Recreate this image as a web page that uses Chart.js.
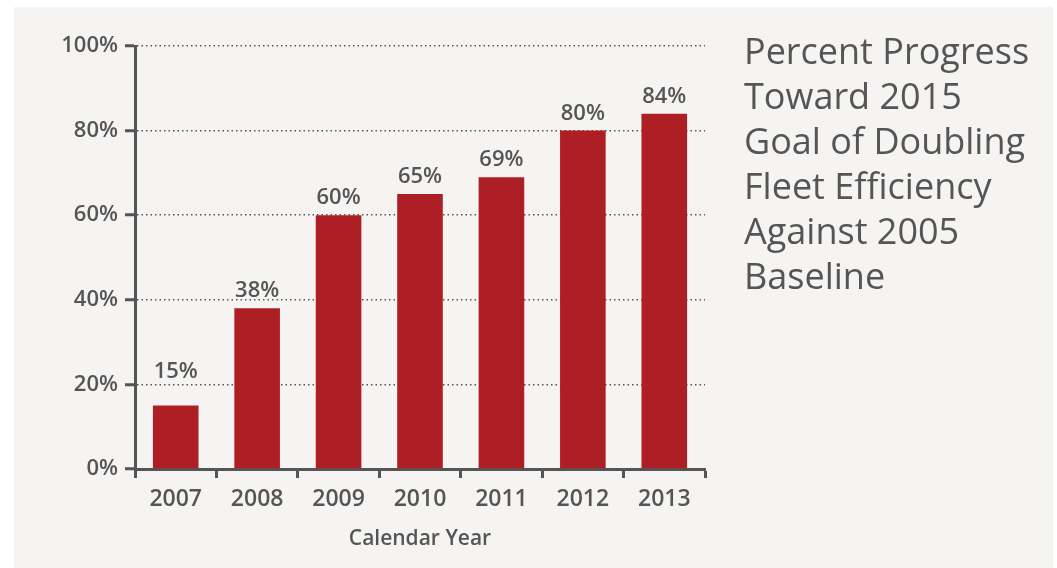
<!DOCTYPE html>
<html>
<head>
<meta charset="utf-8">
<script src="https://cdn.jsdelivr.net/npm/chart.js@4/dist/chart.umd.min.js"></script>
<style>
  html, body { margin: 0; padding: 0; background: #ffffff; }
  #panel { position: absolute; left: 14px; top: 7px; width: 1039px; height: 561px; background: #f5f4f2; }
  #chart { position: absolute; left: 0; top: 0; }
  #title {
    position: absolute; left: 744px; top: 28px;
    font-family: 'Open Sans', sans-serif; font-size: 36px; line-height: 45px;
    color: #555555; white-space: nowrap;
  }
</style>
</head>
<body>
<div id="panel"></div>
<canvas id="chart" width="1057" height="568"></canvas>
<div id="title">Percent Progress<br>Toward 2015<br>Goal of Doubling<br>Fleet Efficiency<br>Against 2005<br>Baseline</div>
<script>
// data
const years = ['2007', '2008', '2009', '2010', '2011', '2012', '2013'];
const progress = [15, 38, 60, 65, 69, 80, 84];
const yTicks = [0, 20, 40, 60, 80, 100];

const axisGray = '#555555';
const barRed = '#ae1e25';
const labelFont = "'Open Sans'";

// value labels above each bar, lifted over a gridline if they would sit on it
const barLabels = {
    id: 'barLabels',
    afterDatasetsDraw(chart) {
        const ctx = chart.ctx;
        const meta = chart.getDatasetMeta(0);
        const yScale = chart.scales.y;
        ctx.save();
        ctx.font = "600 22px 'Open Sans', sans-serif";
        ctx.fillStyle = axisGray;
        ctx.textAlign = 'center';
        ctx.textBaseline = 'alphabetic';
        meta.data.forEach((bar, i) => {
            let base = bar.y - 11;
            yTicks.forEach(t => {
                const gy = yScale.getPixelForValue(t);
                if (gy > base - 18 && gy < base + 2) base = gy - 6;
            });
            ctx.fillText(progress[i] + '%', bar.x, base);
        });
        ctx.restore();
    }
};

new Chart(document.getElementById('chart'), {
    type: 'bar',
    data: {
        labels: years,
        datasets: [{
            data: progress,
            backgroundColor: barRed,
            borderWidth: 0,
            barPercentage: 0.56,
            categoryPercentage: 1
        }]
    },
    options: {
        responsive: false,
        animation: false,
        layout: { padding: { left: 0, top: 46, right: 352, bottom: 0 } },
        plugins: {
            legend: { display: false },
            tooltip: { enabled: false }
        },
        scales: {
            x: {
                afterFit: (scale) => { scale.height = 99; },
                grid: {
                    drawOnChartArea: false,
                    drawTicks: true,
                    tickLength: 9,
                    tickColor: axisGray,
                    tickWidth: 3,
                    offset: true
                },
                border: { color: axisGray, width: 3 },
                ticks: {
                    color: axisGray,
                    padding: 8,
                    font: { family: labelFont, size: 23, weight: '600' }
                },
                title: {
                    display: true,
                    text: 'Calendar Year',
                    color: axisGray,
                    padding: { top: 0, bottom: 16 },
                    font: { family: labelFont, size: 21, weight: '600' }
                }
            },
            y: {
                min: 0,
                max: 100,
                afterFit: (scale) => { scale.width = 135; },
                afterBuildTicks: (scale) => { scale.ticks = yTicks.map(v => ({ value: v })); },
                grid: {
                    color: axisGray,
                    lineWidth: 1.5,
                    tickLength: 10,
                    tickColor: axisGray,
                    tickWidth: 3,
                    tickBorderDash: []
                },
                border: { color: axisGray, width: 3, dash: [1.5, 3] },
                ticks: {
                    color: axisGray,
                    padding: 7,
                    font: { family: labelFont, size: 22, weight: '600' },
                    callback: (v) => v + '%'
                }
            }
        }
    },
    plugins: [barLabels]
});
</script>
</body>
</html>
